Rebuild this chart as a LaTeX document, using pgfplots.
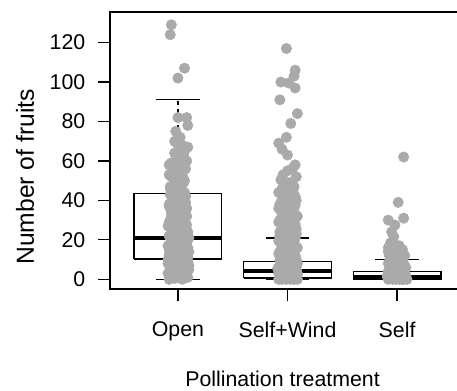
\documentclass[border=0pt]{standalone}
\usepackage{pgfplots}
\pgfplotsset{compat=1.18}
\usepackage{fontspec}
\setmainfont{Liberation Sans}
\definecolor{ptgray}{RGB}{170,170,170}
\begin{document}
\begin{tikzpicture}
\begin{axis}[
  at={(0,0)}, anchor=south west,
  scale only axis, width=266.25pt, height=207.75pt,
  xmin=0.38, xmax=3.62, ymin=-4.9, ymax=135.5,
  xtick={1,2,3}, xticklabels={Open,Self+Wind,Self},
  ytick={0,20,...,120},
  tick pos=left, tick align=outside, major tick length=9pt,
  tick style={black, line width=0.9pt},
  axis line style={black, line width=1pt},
  /pgf/number format/assume math mode=true,
  tick label style={font=\fontsize{16}{19}\selectfont},
  yticklabel style={xshift=-6pt},
  xticklabel style={yshift=-12pt},
  xlabel={Pollination treatment},
  ylabel={Number of fruits},
  xlabel style={font=\fontsize{16}{19}\selectfont, at={(axis description cs:0.486,-0.3527)}, anchor=base},
  ylabel style={font=\fontsize{18.5}{22}\selectfont, at={(axis description cs:-0.2394,0.405)}, anchor=center},
  every axis plot post/.append style={},
  mark options={draw=ptgray, fill=ptgray},
]
% ---- boxes (drawn first) ----
\addplot[black, line width=1pt, fill=white] coordinates {(0.6,10.3) (1.4,10.3) (1.4,43.6) (0.6,43.6) (0.6,10.3)};
\addplot[black, line width=1pt, fill=white] coordinates {(1.6,0.7) (2.4,0.7) (2.4,9.0) (1.6,9.0) (1.6,0.7)};
\addplot[black, line width=1pt, fill=white] coordinates {(2.6,0) (3.4,0) (3.4,4.0) (2.6,4.0) (2.6,0)};
% medians
\addplot[black, line width=3pt] coordinates {(0.6,20.8) (1.4,20.8)};
\addplot[black, line width=3pt] coordinates {(1.6,4.3) (2.4,4.3)};
\addplot[black, line width=3pt] coordinates {(2.6,1.0) (3.4,1.0)};
% whiskers (dashed)
\addplot[black, line width=0.9pt, dash pattern=on 3pt off 3pt] coordinates {(1,43.6) (1,91)};
\addplot[black, line width=0.9pt, dash pattern=on 3pt off 3pt] coordinates {(1,10.3) (1,0)};
\addplot[black, line width=0.9pt, dash pattern=on 3pt off 3pt] coordinates {(2,9.0) (2,21)};
\addplot[black, line width=0.9pt, dash pattern=on 3pt off 3pt] coordinates {(3,4.0) (3,10)};
% staples
\addplot[black, line width=0.9pt] coordinates {(0.8,91) (1.2,91)};
\addplot[black, line width=0.9pt] coordinates {(0.8,0) (1.2,0)};
\addplot[black, line width=0.9pt] coordinates {(1.8,21) (2.2,21)};
\addplot[black, line width=0.9pt] coordinates {(1.8,0) (2.2,0)};
\addplot[black, line width=0.9pt] coordinates {(2.8,10) (3.2,10)};
\addplot[black, line width=0.9pt] coordinates {(2.8,0) (3.2,0)};
% ---- points: Open ----
\addplot[only marks, mark=*, mark size=3.9pt, draw=ptgray, fill=ptgray] table {
x y
0.92 0
1.04 0
0.99 1
1.09 1
0.95 2
1.02 2
1.07 3
0.91 3
1.00 3
1.06 4
0.97 4
0.93 5
1.03 5
0.96 5
1.08 6
0.98 6
1.05 6
0.94 7
1.01 7
1.10 7
0.92 8
1.04 8
0.99 8
1.09 9
0.95 9
1.02 9
1.07 10
0.91 10
1.00 10
1.06 10
0.97 11
0.93 11
1.03 12
0.96 12
1.08 12
0.98 13
1.05 13
0.94 13
1.01 14
1.10 14
0.92 15
1.04 15
0.99 15
1.09 16
0.95 16
1.02 16
1.07 17
0.91 17
1.00 17
1.06 18
0.97 18
0.93 18
1.03 19
0.96 19
1.08 19
0.98 20
1.05 20
0.94 20
1.01 21
1.10 21
0.92 22
1.04 22
0.99 23
1.09 24
0.95 24
1.02 25
1.07 26
0.91 27
1.00 27
1.06 28
0.97 29
0.93 30
1.03 30
0.96 31
1.08 32
0.98 33
1.05 34
0.94 34
1.01 35
1.08 36
0.92 37
1.04 38
0.99 38
1.07 39
0.95 40
1.02 41
1.07 42
0.93 43
1.00 43
1.06 44
0.97 45
0.93 46
1.03 47
0.96 48
1.05 49
0.98 50
1.05 51
0.94 52
1.01 53
1.05 55
0.98 56
1.04 57
0.92 58
0.94 59
1.08 60
1.01 61
1.05 63
0.97 64
1.03 66
1.09 67
0.99 69
1.02 72
0.98 75
1.09 78
1.08 82
1.00 82
1.00 102
1.06 107
0.93 124
0.94 129
0.97 0.5
1.08 2
0.94 3.5
1.10 5
1.00 6.5
0.91 8
1.05 9.5
1.09 11
0.92 12.5
0.97 14
1.07 15.5
0.95 17
1.02 18.5
1.09 20
0.93 21.5
1.05 23
0.97 24.5
1.01 26
1.08 27.5
0.92 29
1.00 30.5
0.94 32
1.06 33.5
0.96 35
1.03 36.5
0.92 38
1.00 39.5
0.95 41
1.05 42.5
0.98 44
1.03 45.5
0.93 47
1.00 48.5
1.06 50
0.97 51.5
0.92 53
1.02 54.5
1.07 56
0.96 57.5
1.01 59
0.99 62
1.06 65
1.04 68
0.97 70
};
% ---- points: Self+Wind ----
\addplot[only marks, mark=*, mark size=3.9pt, draw=ptgray, fill=ptgray] table {
x y
1.92 0
1.99 0
2.06 0
2.03 0
1.95 0
2.09 0
1.97 1
2.04 1
1.93 1
2.08 1
2.00 1
1.94 2
2.02 2
2.07 2
1.98 2
2.05 3
1.92 3
1.99 3
2.09 3
1.96 4
2.03 4
1.93 4
2.06 4
2.00 5
1.94 5
2.08 5
1.97 6
2.05 6
2.01 6
1.93 7
2.07 7
1.99 7
2.03 8
1.95 8
2.09 8
1.98 9
2.04 9
1.95 10
2.08 10
2.03 11
2.07 12
1.99 12
1.92 13
2.04 14
1.96 15
2.09 16
2.01 17
1.94 18
2.06 19
1.98 20
2.02 21
1.93 22
2.08 23
1.97 24
2.04 25
1.95 26
2.00 27
2.07 28
1.92 29
2.03 30
1.96 31
2.09 32
1.98 33
2.06 34
1.94 35
2.00 36
2.05 37
1.93 38
1.97 39
2.08 40
2.02 41
1.95 42
2.04 43
1.92 44
1.98 48
2.08 52
1.96 53
2.07 58
2.00 63
1.95 66
1.92 69
1.99 72
2.03 79
2.09 84
1.93 91
2.07 97
2.01 99.5
1.94 100
2.06 103
2.07 106
1.99 117
2.01 0.5
1.96 1.5
2.09 2.5
1.94 3.5
2.05 4.5
1.91 5.5
2.08 6.5
1.96 7.5
2.02 8.5
1.93 9.5
2.06 11
1.96 12.5
1.93 14
2.07 15
1.95 16.5
2.03 18
1.92 19.5
2.07 21
1.99 22.5
1.93 24
2.08 25.5
1.96 27
2.03 28.5
1.93 30
2.06 31.5
1.95 33
2.02 34.5
1.92 36
2.07 37.5
2.02 39
1.95 40.5
2.07 42
1.99 43.5
2.05 45
1.95 46
2.06 47
2.02 49
1.94 50.5
2.00 55
2.05 56.5
};
% ---- points: Self ----
\addplot[only marks, mark=*, mark size=3.9pt, draw=ptgray, fill=ptgray] table {
x y
2.92 0
2.96 0
3.02 0
3.06 0
3.09 0
2.93 1
3.00 1
3.08 1
2.97 2
3.04 2
2.92 3
3.07 3
3.01 4
2.94 5
3.08 6
2.98 7
3.06 8
2.93 9
3.03 10
2.95 11
3.07 12
3.00 13
2.92 14
3.05 15
2.96 16
3.02 17
2.94 18.4
2.97 21.6
2.98 27.5
2.92 30
3.06 31
3.01 39
3.06 62
2.99 0
3.04 0
2.95 0.5
3.03 1
2.91 1.5
3.08 2
3.00 2.5
2.96 3
3.05 3.5
2.92 4
3.07 4.5
3.02 5
2.96 6
3.04 7
2.92 8
3.00 9
2.95 10
3.05 11
2.93 12
2.98 13
3.03 14
2.95 15
2.92 16
2.96 19
2.95 24
};
\end{axis}
\pgfresetboundingbox
\useasboundingbox (-82.5pt,-75.75pt) rectangle (260.25pt,216.75pt);
\end{tikzpicture}
\end{document}
